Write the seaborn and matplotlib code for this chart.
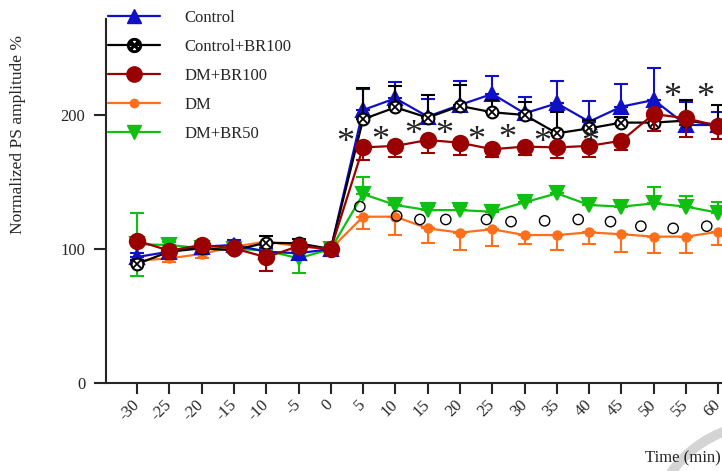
import matplotlib
matplotlib.use("Agg")
import matplotlib.pyplot as plt
from matplotlib.lines import Line2D
from matplotlib.patches import Arc
import seaborn as sns
import pandas as pd

# Time points (min)
time = [-30, -25, -20, -15, -10, -5, 0, 5, 10, 15, 20, 25, 30, 35, 40, 45, 50, 55, 60]

# Group means (normalized PS amplitude %)
control = [94, 98, 101.7, 103, 98, 96.8, 100, 203.7, 212.4, 198.8, 207.5, 215.7, 201.2, 208.7, 195, 206.2, 211.2, 192.5, 192.5]
control_br100 = [88.8, 98, 100.5, 99, 104.7, 104.2, 100, 196.8, 205.7, 198, 206.7, 202, 200, 186.3, 190, 194.3, 194.3, 195.8, 192.5]
dm_br100 = [106.2, 98.7, 103, 100.5, 93.8, 102.2, 100, 175.8, 176.9, 181.3, 179.3, 174.4, 176.4, 175.8, 176.9, 180.8, 200.7, 197.5, 191.8]
dm = [91.3, 93, 96.3, 101.7, 105.5, 102, 100, 124.1, 124.1, 115.4, 112.2, 114.7, 110.4, 110.4, 112.4, 111, 109.2, 109.2, 112.9]
dm_br50 = [103.5, 103, 100.5, 100, 99, 93, 100, 141, 132.8, 129, 129, 127.8, 134.8, 141.5, 132.8, 131.6, 134, 131.6, 127]

# Error bars (SEM), lower / upper parts
control_err_up = [3, 3, 3, 4, 3, 3, 0, 16, 12, 13, 18, 13, 12.5, 17, 15.7, 17, 24, 17.5, 10]
control_br100_err_up = [3, 3, 3, 3, 5, 3, 0, 23, 16, 17, 16, 9, 10, 16, 6, 4, 4, 15, 15]
dm_br100_err_lo = [3, 3, 3, 3, 10, 3, 0, 9.4, 8.5, 10, 9, 5.4, 6.4, 8, 8, 7, 13, 13.7, 10]
dm_err_lo = [3, 3, 3, 3, 3, 3, 0, 9.4, 14, 10.7, 13, 12.5, 6.7, 11, 8.7, 13, 12, 12, 10]
dm_br50_err_up = [23.5, 2, 2, 2, 2, 0, 0, 13, 5, 3, 3, 5, 3, 5.5, 4, 4, 12, 8, 8]
dm_br50_err_lo = [23.5, 0, 0, 0, 0, 11, 0, 0, 0, 0, 0, 0, 0, 0, 0, 0, 0, 0, 0]
zeros = [0] * len(time)

# significance marks
star_x = [2.2, 7.6, 12.7, 17.6, 22.6, 27.4, 32.7, 40.1, 52.9, 57.9]
star_y = [179, 180.5, 184.5, 184.5, 180.5, 182, 179, 179, 212.5, 212.5]
ring_x = [4.5, 10.2, 13.8, 17.8, 24.1, 27.9, 33.1, 38.3, 43.3, 48, 53, 58.2]
ring_y = [131.6, 124.6, 122, 122, 122, 120.4, 121, 122, 120.4, 117, 115.4, 117]

sns.set_style("ticks")
plt.rcParams['font.family'] = ['Liberation Serif', 'DejaVu Serif']

fig = plt.figure(figsize=(7.22, 4.71), dpi=100)
ax = fig.add_axes([106 / 722, 88 / 471, 616 / 722, 364 / 471])

# series: label, values, err_lo, err_up, color, marker, size, mfc
series = [
    ("DM+BR50", dm_br50, dm_br50_err_lo, dm_br50_err_up, "#10c010", "v", 10, "#10c010"),
    ("DM", dm, dm_err_lo, zeros, "#ff6e1a", "o", 6, "#ff6e1a"),
    ("Control", control, zeros, control_err_up, "#1010c8", "^", 10, "#1010c8"),
    ("Control+BR100", control_br100, zeros, control_br100_err_up, "black", "o", 8.5, "white"),
    ("DM+BR100", dm_br100, dm_br100_err_lo, zeros, "#9b0000", "o", 11, "#9b0000"),
]

for i, (label, vals, lo, up, color, marker, ms, mfc) in enumerate(series):
    df = pd.DataFrame({"time": time, "value": vals})
    ax.errorbar(time, vals, yerr=[lo, up], fmt="none", ecolor=color,
                elinewidth=1.5, capsize=5, capthick=1.5, zorder=2 + 2 * i)
    sns.lineplot(data=df, x="time", y="value", color=color, marker=marker,
                 markersize=ms, markerfacecolor=mfc, markeredgecolor=color,
                 markeredgewidth=1.5, linewidth=1.6, ax=ax, zorder=3 + 2 * i)
    if label == "Control+BR100":
        ax.plot(time, vals, linestyle="none", marker="x", markersize=5.5,
                color="black", markeredgewidth=1.3, zorder=3 + 2 * i)

ax.scatter(ring_x, ring_y, s=55, facecolors="none", edgecolors="black",
           linewidths=1.0, zorder=20)
for x, y in zip(star_x, star_y):
    ax.text(x, y, "*", fontsize=26, ha="center", va="center", color="#222222", zorder=21)

ax.set_xlim(-34.8, 60.56)
ax.set_ylim(0, 271.6)
ax.set_xticks(time)
ax.set_xticklabels([str(t) for t in time], rotation=45, ha="right", va="center",
                   rotation_mode="anchor", fontsize=12)
ax.set_yticks([0, 100, 200])
ax.set_yticklabels(["0", "100", "200"], fontsize=12)
ax.tick_params(axis="y", length=9, width=1.5, pad=6)
ax.tick_params(axis="x", length=8, width=1.5, pad=6)
ax.set_xlabel("")
ax.set_ylabel("")
sns.despine(ax=ax)
ax.spines["left"].set_linewidth(1.5)
ax.spines["bottom"].set_linewidth(1.5)

fig.text(18 / 722, 1 - 135 / 471, "Normalized PS amplitude %", rotation=90,
         ha="center", va="center", fontsize=12.5)
fig.text(0.998, 1 - 458 / 471, "Time (min)", ha="right", va="center", fontsize=12)

# legend
handles = [
    Line2D([], [], color="#1010c8", marker="^", markersize=10, linewidth=1.6),
    Line2D([], [], color="black", marker="$\\otimes$", markersize=10, linewidth=1.6),
    Line2D([], [], color="#9b0000", marker="o", markersize=11, linewidth=1.6),
    Line2D([], [], color="#ff6e1a", marker="o", markersize=6, linewidth=1.6),
    Line2D([], [], color="#10c010", marker="v", markersize=10, linewidth=1.6),
]
labels = ["Control", "Control+BR100", "DM+BR100", "DM", "DM+BR50"]
fig.legend(handles, labels, loc="upper left", bbox_to_anchor=(108 / 722, 1 - 10 / 471),
           frameon=False, fontsize=12, handlelength=3.1, labelspacing=0.78,
           handletextpad=1.5, borderpad=0, borderaxespad=0)

arc = Arc((765 / 722, -68 / 471), 2 * 115 / 722, 2 * 115 / 471, theta1=90, theta2=180,
          transform=fig.transFigure, color="#d4d4d4", linewidth=7, clip_on=False)
fig.add_artist(arc)

fig.savefig("out.png", dpi=100)
